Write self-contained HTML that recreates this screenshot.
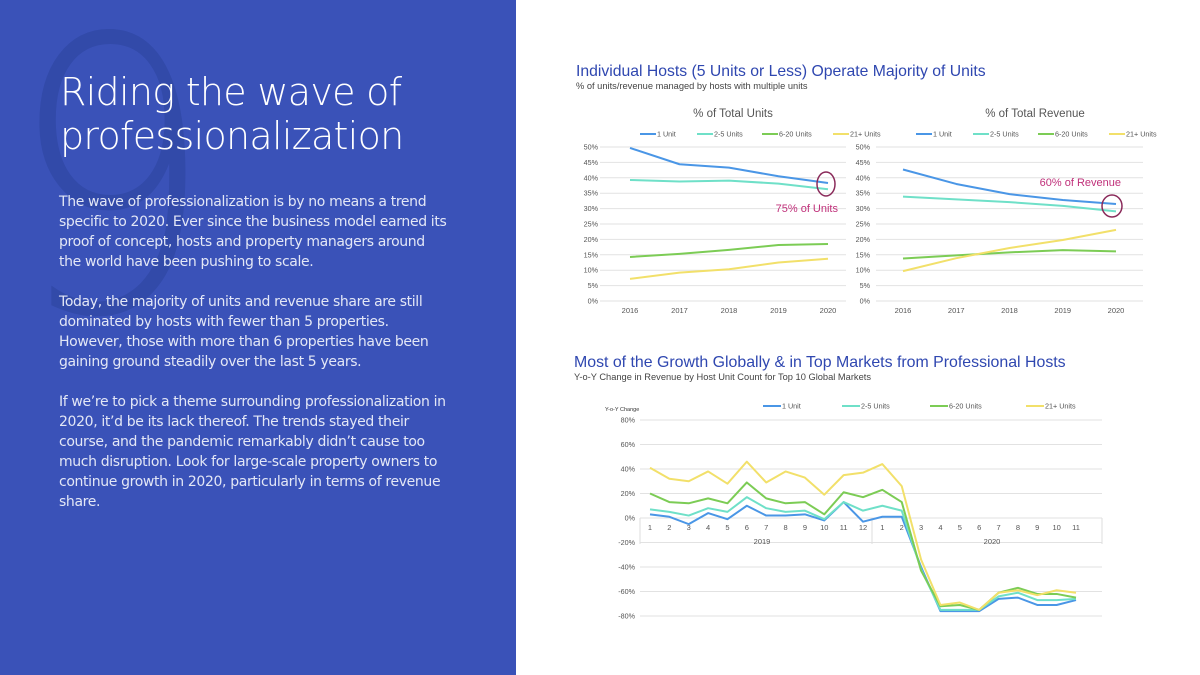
<!DOCTYPE html>
<html><head><meta charset="utf-8">
<style>
body{margin:0;width:1200px;height:675px;overflow:hidden;background:#fff;font-family:"Liberation Sans",sans-serif;position:relative}
#left{position:absolute;left:0;top:0;width:516px;height:675px;background:#3a52b8;overflow:hidden}
#nine{position:absolute;left:8px;top:-10px;font-size:380px;font-weight:300;color:#324aa9;line-height:1;font-family:"DejaVu Sans","Liberation Sans",sans-serif;transform:scaleX(0.85);transform-origin:left top}
#title{position:absolute;left:60px;top:70px;color:#fff;font-size:38px;line-height:44px;font-family:"DejaVu Sans","Liberation Sans",sans-serif;font-weight:200;letter-spacing:-0.7px}
#body{position:absolute;left:59px;top:192px;width:420px;color:#e3e7f6;font-size:14px;line-height:20px;font-family:"DejaVu Sans","Liberation Sans",sans-serif;letter-spacing:-0.36px;white-space:nowrap}
#body p{margin:0 0 20px 0}
svg{position:absolute;left:0;top:0}
</style></head><body>
<div id="left">
<div id="nine">9</div>
<div id="title">Riding the wave of<br>professionalization</div>
<div id="body">
<p>The wave of professionalization is by no means a trend<br>specific to 2020. Ever since the business model earned its<br>proof of concept, hosts and property managers around<br>the world have been pushing to scale.</p>
<p>Today, the majority of units and revenue share are still<br>dominated by hosts with fewer than 5 properties.<br>However, those with more than 6 properties have been<br>gaining ground steadily over the last 5 years.</p>
<p>If we’re to pick a theme surrounding professionalization in<br>2020, it’d be its lack thereof. The trends stayed their<br>course, and the pandemic remarkably didn’t cause too<br>much disruption. Look for large-scale property owners to<br>continue growth in 2020, particularly in terms of revenue<br>share.</p>
</div></div>
<svg id="chart" width="1200" height="675"></svg>
<script>
const years=["2016","2017","2018","2019","2020"];
const seriesNames=["1 Unit","2-5 Units","6-20 Units","21+ Units"];
const colors=["#4a96e6","#6fe0c8","#7ccc55","#f2e06a"];
const unitsOne=[49.7,44.4,43.3,40.5,38.3];
const unitsTwo=[39.3,38.8,39.1,38.1,36.3];
const unitsSix=[14.3,15.3,16.6,18.2,18.5];
const unitsTwentyOne=[7.2,9.2,10.3,12.5,13.7];
const revOne=[42.7,38.0,34.7,32.8,31.5];
const revTwo=[33.9,33.0,32.1,30.9,29.1];
const revSix=[13.8,14.8,15.8,16.5,16.1];
const revTwentyOne=[9.7,13.9,17.2,19.8,23.1];
const pctTicks=[0,5,10,15,20,25,30,35,40,45,50];
const months=["1","2","3","4","5","6","7","8","9","10","11","12","1","2","3","4","5","6","7","8","9","10","11"];
const yoyOne=[3,1,-5,4,-1,10,2,2,3,-2,13,-3,1,1,-40,-76,-76,-76,-66,-65,-71,-71,-67];
const yoyTwo=[7,5,2,8,5,17,8,5,6,-1,13,6,10,6,-42,-75,-75,-75,-64,-61,-67,-67,-66];
const yoySix=[20,13,12,16,12,29,16,12,13,3,21,17,23,13,-43,-72,-71,-75,-61,-57,-62,-62,-65];
const yoyTwentyOne=[41,32,30,38,28,46,29,38,33,19,35,37,44,26,-34,-71,-69,-75,-61,-59,-63,-59,-61];
const yoyTicks=[-80,-60,-40,-20,0,20,40,60,80];

const svg=document.getElementById('chart');
const NS="http://www.w3.org/2000/svg";
function mk(tag,attrs,txt){const e=document.createElementNS(NS,tag);for(const k in attrs)e.setAttribute(k,attrs[k]);if(txt!==undefined)e.textContent=txt;svg.appendChild(e);return e;}

function txt(x,y,s,size,fill,anchor,name){const t=mk('text',{x:x,y:y,'font-size':size,fill:fill,'text-anchor':anchor||'start','font-family':'"Liberation Sans",sans-serif'},s);

return t;}

txt(576,76,"Individual Hosts (5 Units or Less) Operate Majority of Units",15.75,"#2f47b0","start","chart-title-top");
txt(576,89,"% of units/revenue managed by hosts with multiple units",9.3,"#444","start","chart-subtitle-top");
txt(574,367,"Most of the Growth Globally & in Top Markets from Professional Hosts",15.9,"#2f47b0","start","chart-title-bottom");
txt(574,380,"Y-o-Y Change in Revenue by Host Unit Count for Top 10 Global Markets",9.3,"#444","start","chart-subtitle-bottom");

function legend(items,xs,y,len,fs,prefix){items.forEach((n,i)=>{const l=mk('line',{x1:xs[i],y1:y,x2:xs[i]+len,y2:y,stroke:colors[i],'stroke-width':2});


txt(xs[i]+len+1,y+2.5,n,fs,"#555","start",prefix+'-legend-entry-'+i);});}

function smallChart(x0,x1,xa,xb,title,tx,data,prefix,showTicks){
  const yv=v=>301-v*3.08;
  const xv=i=>xa+(xb-xa)*i/(years.length-1);
  txt(tx,117,title,11.5,"#555","middle",prefix+'-title');
  legend(seriesNames,[x0+40+0,x0+40+57,x0+40+122,x0+40+193],134,16,7.2,prefix);
  pctTicks.forEach(t=>{const g=mk('line',{x1:x0,x2:x1,y1:yv(t),y2:yv(t),stroke:'#e2e2e2','stroke-width':1});
  
  
  if(showTicks) txt(x0-2,yv(t)+2.5,t+"%",7.2,"#555","end",prefix+'-y-tick');});
  years.forEach((y,i)=>txt(xv(i),313,y,7.5,"#555","middle",prefix+'-x-tick'));
  data.forEach((s,k)=>{const p=mk('polyline',{points:s.map((v,i)=>xv(i)+','+yv(v)).join(' '),fill:'none',stroke:colors[k],'stroke-width':2,'stroke-linejoin':'round'});
  
  });
  return {xv,yv};
}
const a=smallChart(600,846,630,828,"% of Total Units",733,[unitsOne,unitsTwo,unitsSix,unitsTwentyOne],'units',true);
const b=smallChart(876,1143,903,1116,"% of Total Revenue",1035,[revOne,revTwo,revSix,revTwentyOne],'revenue',false);
pctTicks.forEach(t=>txt(870,b.yv(t)+2.5,t+"%",7.2,"#555","end",'revenue-y-tick'));
let c=mk('ellipse',{cx:826,cy:184,rx:9,ry:12,fill:'none',stroke:'#8a2a5a','stroke-width':1.5});


txt(838,212,"75% of Units",11,"#c0307a","end",'units-annotation');
c=mk('ellipse',{cx:1112,cy:206,rx:10,ry:11,fill:'none',stroke:'#8a2a5a','stroke-width':1.5});


txt(1121,186,"60% of Revenue",11,"#c0307a","end",'revenue-annotation');

const yy=v=>518-v*1.225;
const xm=i=>650+(1076-650)*i/(months.length-1);
txt(605,411,"Y-o-Y Change",5.5,"#333","start",'yoy-axis-title');
legend(seriesNames,[763,842,930,1026],406,18,7.2,'yoy');
yoyTicks.forEach(t=>{const g=mk('line',{x1:640,x2:1102,y1:yy(t),y2:yy(t),stroke:'#e2e2e2','stroke-width':1});


txt(635,yy(t)+2.5,t+"%",7.2,"#555","end",'yoy-y-tick');});
[640,872,1102].forEach(x=>{const l=mk('line',{x1:x,x2:x,y1:518,y2:544,stroke:'#ddd','stroke-width':1});

});
months.forEach((m,i)=>txt(xm(i),530,m,7.5,"#555","middle",'yoy-x-tick'));
txt(762,544,"2019",7.5,"#555","middle",'yoy-year-2019');
txt(992,544,"2020",7.5,"#555","middle",'yoy-year-2020');
[yoyOne,yoyTwo,yoySix,yoyTwentyOne].forEach((s,k)=>{const p=mk('polyline',{points:s.map((v,i)=>xm(i)+','+yy(v)).join(' '),fill:'none',stroke:colors[k],'stroke-width':2,'stroke-linejoin':'round'});

});
</script>
</body></html>
